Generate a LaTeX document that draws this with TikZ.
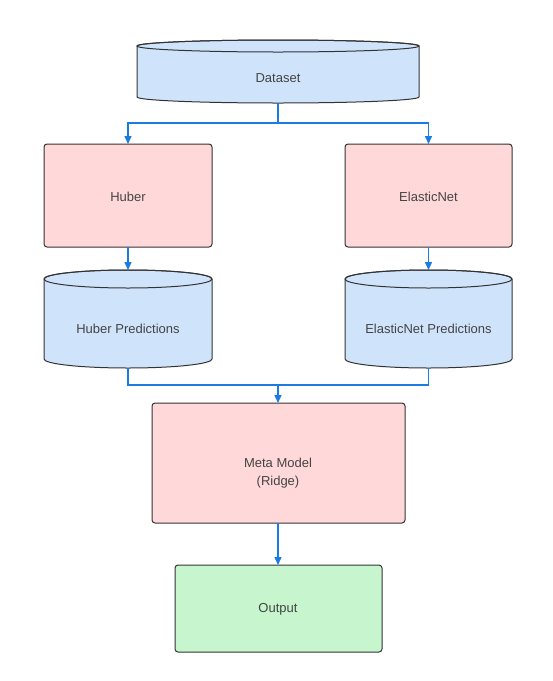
\documentclass[tikz,border=0pt]{standalone}
\usepackage{fontspec}
\setmainfont{Liberation Sans}
\usetikzlibrary{arrows.meta}
\definecolor{dbblue}{HTML}{CFE4FB}
\definecolor{modpink}{HTML}{FFD8DA}
\definecolor{outgreen}{HTML}{C6F5CE}
\definecolor{edgegray}{HTML}{333333}
\definecolor{txtgray}{HTML}{444444}
\definecolor{arrblue}{HTML}{1A7BE0}
\tikzset{
  boxstyle/.style={draw=edgegray, line width=1pt, rounded corners=3pt},
  cylstyle/.style={draw=edgegray, line width=1pt, fill=dbblue},
  lbl/.style={text=txtgray, font=\fontsize{13}{18}\selectfont, align=center, inner sep=0pt},
  conn/.style={draw=arrblue, line width=1.4pt},
  arr/.style={conn, -{Triangle[length=8pt,width=7pt]}},
}
\newcommand{\cylshape}[6]{% cx, topcy, botcy, rx, ry, name
  \path[cylstyle] (#1-#4,#2) -- (#1-#4,#3) arc[start angle=180,end angle=0,x radius=#4,y radius=#5] -- (#1+#4,#2) arc[start angle=0,end angle=-180,x radius=#4,y radius=#5] -- cycle;
  \draw[draw=edgegray, line width=1pt] (#1,#2) ellipse[x radius=#4,y radius=#5];
  \coordinate (#6top) at (#1,#2-#5);
  \coordinate (#6bot) at (#1,#3+#5);
}
\begin{document}
\begin{tikzpicture}[x=1pt,y=-1pt]
\useasboundingbox (0,0) rectangle (553,681);
% Dataset
\cylshape{278}{46}{97}{141}{6}{ds}
\node[lbl] (dslbl) at (278,78) {Dataset};
% Huber / ElasticNet
\path[boxstyle, fill=modpink] (44,144) rectangle (212,247);
\coordinate (hubtop) at (128,144);
\coordinate (hubbot) at (128,247);
\node[lbl] (hublbl) at (128,197) {Huber};
\path[boxstyle, fill=modpink] (345,144) rectangle (512,247);
\coordinate (entop) at (428.5,144);
\coordinate (enbot) at (428.5,247);
\node[lbl] (enlbl) at (428.5,197) {ElasticNet};
% Prediction cylinders
\cylshape{128}{279}{359}{84}{9}{hp}
\node[lbl] (hplbl) at (128,329) {Huber Predictions};
\cylshape{428.5}{279}{359}{83.5}{9}{ep}
\node[lbl] (eplbl) at (428.5,329) {ElasticNet Predictions};
% Meta
\path[boxstyle, fill=modpink] (152,403) rectangle (405,523);
\coordinate (metatop) at (278,403);
\coordinate (metabot) at (278,523);
\node[lbl] (metalbl) at (278,473) {Meta Model\\(Ridge)};
% Output
\path[boxstyle, fill=outgreen] (175,565) rectangle (382,652);
\coordinate (outtop) at (278,565);
\node[lbl] (outlbl) at (278,609) {Output};
% connectors
\coordinate (split) at (278,123);
\draw[conn] (dsbot) -- (split);
\draw[arr] (split) -| (hubtop);
\draw[arr] (split) -| (entop);
\draw[arr] (hubbot) -- (hptop);
\draw[arr] (enbot) -- (eptop);
\coordinate (merge) at (278,385);
\draw[conn] (hpbot) |- (merge);
\draw[conn] (epbot) |- (merge);
\draw[arr] (merge) -- (metatop);
\draw[arr] (metabot) -- (outtop);
\end{tikzpicture}
\end{document}
